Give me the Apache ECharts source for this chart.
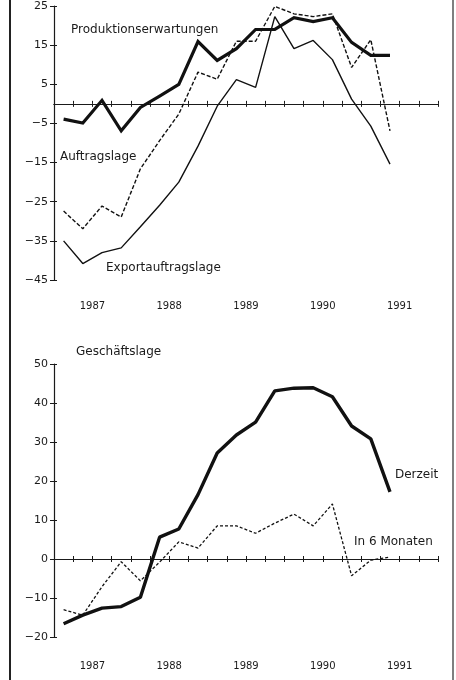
<!DOCTYPE html>
<html>
<head>
<meta charset="utf-8">
<script src="https://cdn.jsdelivr.net/npm/echarts@6/dist/echarts.min.js"></script>
<style>
html, body { margin: 0; background: #fff; }
#chart { width: 456px; height: 680px; }
</style>
</head>
<body>
<div id="chart"></div>
<script>
// Quartale 1987 I bis 1991 II, jeweils Quartalsmitte
const quarters = [1987.125, 1987.375, 1987.625, 1987.875,
                  1988.125, 1988.375, 1988.625, 1988.875,
                  1989.125, 1989.375, 1989.625, 1989.875,
                  1990.125, 1990.375, 1990.625, 1990.875,
                  1991.125, 1991.375];

// oberes Diagramm
const produktion = [-3.9, -4.9, 0.9, -6.9, -0.9, 2.0, 5.0, 15.9, 11.1, 14.1, 19.0, 19.0, 22.0, 21.0, 22.0, 15.7, 12.4, 12.4];
const auftrag = [-27.4, -31.9, -26.1, -28.9, -16.6, -9.4, -2.6, 8.1, 6.3, 16.0, 16.0, 24.9, 23.0, 22.3, 23.0, 9.3, 16.4, -6.9];
const export_ = [-35.0, -40.8, -38.0, -36.8, -31.4, -25.9, -20.0, -10.8, -0.6, 6.2, 4.2, 22.3, 14.1, 16.2, 11.3, 1.2, -5.7, -15.4];

// unteres Diagramm (Geschäftslage)
const derzeit = [-16.6, -14.4, -12.6, -12.2, -9.8, 5.6, 7.7, 16.5, 27.2, 31.8, 35.1, 43.1, 43.8, 43.9, 41.6, 34.1, 30.8, 17.2];
const sechsMonate = [-13.0, -14.4, -7.1, -0.7, -5.6, -0.8, 4.4, 2.8, 8.5, 8.5, 6.6, 9.2, 11.5, 8.5, 14.1, -4.3, -0.3, 0.5];

const years = ['1987', '1988', '1989', '1990', '1991'];

const FONT = '"DejaVu Sans", sans-serif';
const INK = '#1a1a1a';

function pairs(vals) {
    return quarters.map((q, i) => [q, vals[i]]);
}

// Jahreszahl in der Jahresmitte
function yearFmt(v) {
    const idx = Math.round((v - 1987.5));
    if (Math.abs(v - 1987.5 - idx) < 1e-6 && idx >= 0 && idx < years.length) return years[idx];
    return '';
}

function minusFmt(v) {
    return v < 0 ? '\u2212' + Math.abs(v) : String(v);
}

function xAxes(grid, yIdx, margin) {
    const base = { gridIndex: grid, type: 'value', min: 1987, max: 1992, interval: 0.25, splitLine: { show: false } };
    return [
        // Jahreszahlen unten
        Object.assign({}, base, {
            position: 'bottom',
            axisLine: { show: false, onZero: false },
            axisTick: { show: false },
            axisLabel: { margin: margin, formatter: yearFmt, fontFamily: FONT, fontSize: 10, color: INK }
        }),
        // Nulllinie mit Quartalsstrichen (nach unten)
        Object.assign({}, base, {
            position: 'bottom',
            axisLine: { onZero: true, onZeroAxisIndex: yIdx, lineStyle: { color: INK, width: 1.2 } },
            axisTick: { length: 3, lineStyle: { color: INK, width: 1 } },
            axisLabel: { show: false }
        }),
        // Quartalsstriche nach oben
        Object.assign({}, base, {
            position: 'bottom',
            axisLine: { onZero: true, onZeroAxisIndex: yIdx, lineStyle: { color: INK, width: 1.2 } },
            axisTick: { inside: true, length: 3, lineStyle: { color: INK, width: 1 } },
            axisLabel: { show: false }
        })
    ];
}

function yAxes(grid, min, max) {
    const base = { gridIndex: grid, type: 'value', min: min, max: max, interval: 10, position: 'left', splitLine: { show: false } };
    return [
        Object.assign({}, base, {
            axisLine: { show: true, onZero: false, lineStyle: { color: INK, width: 1.2 } },
            axisTick: { show: true, length: 4, lineStyle: { color: INK } },
            axisLabel: { margin: 6, fontFamily: FONT, fontSize: 11, color: INK, formatter: minusFmt }
        }),
        Object.assign({}, base, {
            axisLine: { show: false, onZero: false },
            axisTick: { show: true, inside: true, length: 3, lineStyle: { color: INK } },
            axisLabel: { show: false }
        })
    ];
}

function lbl(text, x, y) {
    return {
        type: 'text', x: x, y: y, silent: true,
        style: { text: text, font: '12px ' + FONT, fill: INK, textVerticalAlign: 'middle' }
    };
}

const chart = echarts.init(document.getElementById('chart'), null, { renderer: 'canvas' });

chart.setOption({
    backgroundColor: '#fff',
    animation: false,
    grid: [
        { left: 54, top: 6, width: 384, height: 274 },
        { left: 54, top: 364, width: 384, height: 273 }
    ],
    xAxis: xAxes(0, 0, 21).concat(xAxes(1, 2, 24)),
    yAxis: yAxes(0, -45, 25).concat(yAxes(1, -20, 50)),
    series: [
        {
            name: 'Produktionserwartungen', type: 'line', xAxisIndex: 0, yAxisIndex: 0,
            data: pairs(produktion), symbol: 'none',
            lineStyle: { color: '#111', width: 3.2, join: 'miter' }
        },
        {
            name: 'Auftragslage', type: 'line', xAxisIndex: 0, yAxisIndex: 0,
            data: pairs(auftrag), symbol: 'none',
            lineStyle: { color: '#111', width: 1.4, type: [4, 2] }
        },
        {
            name: 'Exportauftragslage', type: 'line', xAxisIndex: 0, yAxisIndex: 0,
            data: pairs(export_), symbol: 'none',
            lineStyle: { color: '#111', width: 1.4 }
        },
        {
            name: 'Derzeit', type: 'line', xAxisIndex: 3, yAxisIndex: 2,
            data: pairs(derzeit), symbol: 'none',
            lineStyle: { color: '#111', width: 3.4 }
        },
        {
            name: 'In 6 Monaten', type: 'line', xAxisIndex: 3, yAxisIndex: 2,
            data: pairs(sechsMonate), symbol: 'none',
            lineStyle: { color: '#111', width: 1.3, type: [3, 2] }
        }
    ],
    graphic: [
        lbl('Produktionserwartungen', 71, 30),
        lbl('Auftragslage', 60, 157),
        lbl('Exportauftragslage', 106, 268),
        lbl('Geschäftslage', 76, 352),
        lbl('Derzeit', 395, 475),
        lbl('In 6 Monaten', 354, 542),
        // Rahmen links und rechts
        { type: 'line', silent: true, shape: { x1: 10, y1: 0, x2: 10, y2: 680 }, style: { stroke: '#222', lineWidth: 2 } },
        { type: 'line', silent: true, shape: { x1: 453, y1: 0, x2: 453, y2: 680 }, style: { stroke: '#555', lineWidth: 1.5 } }
    ]
});
</script>
</body>
</html>
